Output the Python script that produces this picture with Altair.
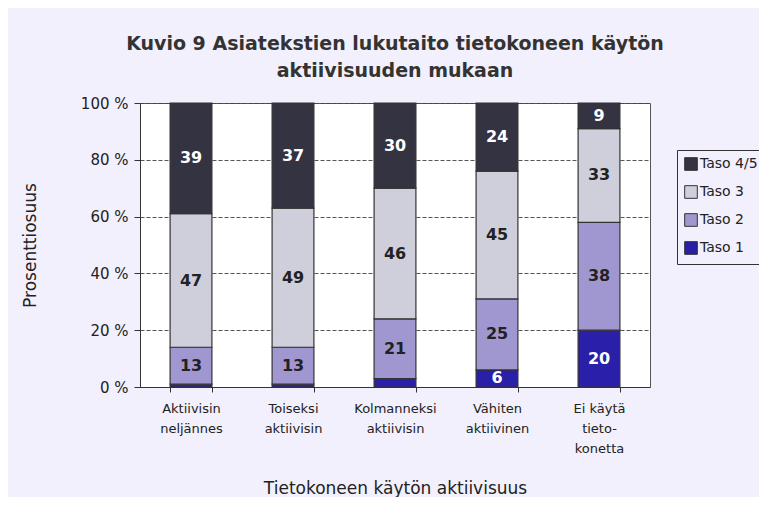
import altair as alt
import pandas as pd

categories = ["Aktiivisin|neljännes", "Toiseksi|aktiivisin", "Kolmanneksi|aktiivisin",
              "Vähiten|aktiivinen", "Ei käytä|tieto-|konetta"]
levels = ["Taso 4/5", "Taso 3", "Taso 2", "Taso 1"]
taso1 = [1, 1, 3, 6, 20]
taso2 = [13, 13, 21, 25, 38]
taso3 = [47, 49, 46, 45, 33]
taso45 = [39, 37, 30, 24, 9]
colors = ["#333342", "#cfcfdc", "#a097d0", "#2a1fa8"]
y_ticks = [0, 20, 40, 60, 80, 100]

series = {"Taso 1": taso1, "Taso 2": taso2, "Taso 3": taso3, "Taso 4/5": taso45}
order_map = {"Taso 1": 1, "Taso 2": 2, "Taso 3": 3, "Taso 4/5": 4}
rows = []
for lvl, vals in series.items():
    for c, v in zip(categories, vals):
        rows.append({"cat": c, "level": lvl, "value": v, "ord": order_map[lvl]})
df = pd.DataFrame(rows)

FONT = "DejaVu Sans"

base = alt.Chart(df).transform_stack(
    stack="value", groupby=["cat"], as_=["y0", "y1"],
    sort=[alt.SortField("ord", order="ascending")]
).transform_calculate(mid="(datum.y0 + datum.y1) / 2")

x_enc = alt.X("cat:N", sort=categories,
              scale=alt.Scale(paddingInner=0.59, paddingOuter=0.295),
              axis=alt.Axis(title="Tietokoneen käytön aktiivisuus",
                            labelExpr="split(datum.label, '|')",
                            labelAngle=0, labelFontSize=13, labelLineHeight=20,
                            labelColor="#222", labelFont=FONT, labelPadding=16,
                            labelBaseline="middle",
                            tickBand="extent", tickSize=5, tickColor="#333",
                            domainColor="#333", grid=False,
                            titleFontSize=17, titleFontWeight="normal", titleFont=FONT,
                            titleColor="#222", titleY=101, titleBaseline="middle"))

bars = base.mark_bar(stroke="#333333", strokeWidth=1.2).encode(
    x=x_enc,
    y=alt.Y("y0:Q", scale=alt.Scale(domain=[0, 100], nice=False),
            axis=alt.Axis(title="Prosenttiosuus", values=y_ticks,
                          labelExpr="datum.value + ' %'",
                          labelFontSize=15, labelFont=FONT, labelColor="#222",
                          labelPadding=6, tickSize=6, tickColor="#333",
                          domainColor="#333",
                          grid=True, gridColor="#444444", gridDash=[4, 2],
                          gridWidth=0.9,
                          titleFontSize=17, titleFontWeight="normal", titleFont=FONT,
                          titleColor="#222", titleX=-110, titleY=142,
                          titleBaseline="middle")),
    y2="y1:Q",
    color=alt.Color("level:N", scale=alt.Scale(domain=levels, range=colors),
                    legend=alt.Legend(title=None, orient="none", legendX=537, legendY=47,
                                      symbolType="square", symbolSize=160,
                                      symbolStrokeColor="#333", symbolStrokeWidth=1,
                                      labelFontSize=14, labelFont=FONT, labelColor="#222",
                                      rowPadding=10, padding=7, labelOffset=2,
                                      strokeColor="#333", fillColor="#f2f0fc")),
)

labels = base.transform_filter("datum.value >= 6").mark_text(
    fontSize=16, fontWeight="bold", font=FONT, baseline="middle"
).encode(
    x=alt.X("cat:N", sort=categories),
    y=alt.Y("mid:Q"),
    text=alt.Text("value:Q"),
    color=alt.condition("datum.level == 'Taso 4/5' || datum.level == 'Taso 1'",
                        alt.value("white"), alt.value("#222222")),
)

chart = alt.layer(bars, labels).properties(
    width=510, height=284,
    title=alt.TitleParams(text=["Kuvio 9  Asiatekstien lukutaito tietokoneen käytön",
                                "aktiivisuuden mukaan"],
                          fontSize=19, fontWeight="bold", font=FONT, color="#333",
                          lineHeight=27, anchor="middle", offset=15),
    autosize=alt.AutoSizeParams(type="none"),
    padding={"left": 132, "top": 95, "right": 109, "bottom": 110},
    background="#f2f0fc",
).configure_view(fill="white", stroke="#555555", strokeWidth=1)

chart.save("out.html", embed_options={"renderer": "svg", "actions": False})
